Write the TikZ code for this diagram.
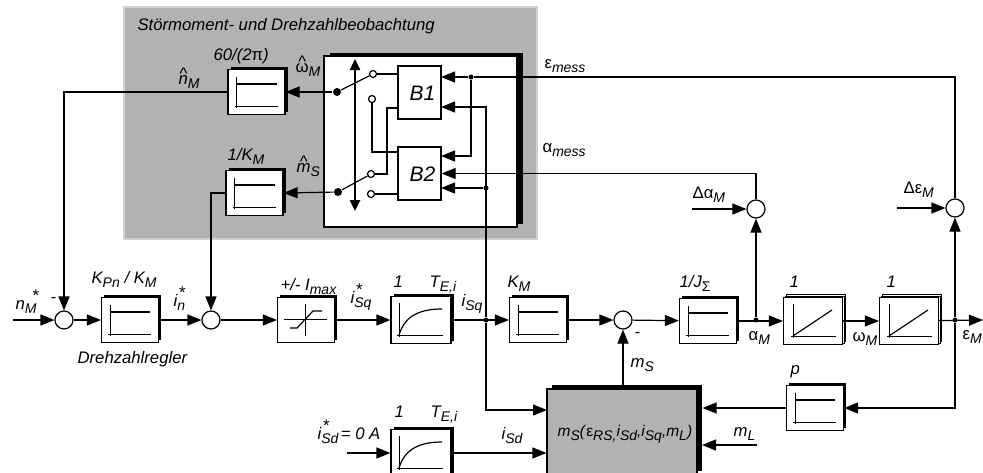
\documentclass[tikz,border=0pt]{standalone}
\usepackage{fontspec}
\setmainfont{Liberation Sans}
\usetikzlibrary{arrows.meta,shadows}

\definecolor{panelgray}{HTML}{B2B2B2}

\newcommand{\lowtxt}[1]{\raisebox{-4pt}{\fontsize{14}{14}\selectfont #1}}
\newcommand{\starlow}[3][0pt]{\rlap{\raisebox{-4pt}{\fontsize{14}{14}\selectfont #2}}\kern#1\raisebox{8pt}{\fontsize{17}{17}\selectfont #3}}
\newcommand{\hatted}[1]{\vbox{\offinterlineskip\halign{\hfil##\hfil\cr\textasciicircum\cr\noalign{\kern-4pt}#1\cr}}}

\tikzset{
  lab/.style={font=\itshape\fontsize{16.7}{16.7}\selectfont, inner sep=0pt, anchor=base west},
  blab/.style={lab, font=\itshape\fontsize{21}{21}\selectfont},
  arr/.style={-{Triangle[length=14pt,width=11pt]}},
  gainblock/.style={draw, fill=white, inner sep=0pt, minimum width=57pt, minimum height=45pt,
    general shadow={fill=black, shadow xshift=2.5pt, shadow yshift=2.5pt}},
  stackblock/.style={draw, fill=white, inner sep=0pt, minimum width=59pt, minimum height=47pt,
    double copy shadow={shadow xshift=1.5pt, shadow yshift=1.5pt, line width=0.5pt}},
  sumnode/.style={circle, draw, fill=white, inner sep=0pt, minimum size=18pt},
  jdot/.style={circle, fill=black, inner sep=0pt, minimum size=5pt},
  swdot/.style={circle, fill=black, inner sep=0pt, minimum size=8pt},
  opendot/.style={circle, draw, fill=white, inner sep=0pt, minimum size=7pt},
  gainglyph/.pic={
    \draw [line width=0.7pt] (-20,-15) -- (-20,16);
    \draw [line width=0.7pt] (-22,14) -- (21,14);
    \draw [line width=1.2pt] (-20,-8) -- (20,-8);
  },
  lagglyph/.pic={
    \draw [line width=0.7pt] (-22,-17) -- (-22,17);
    \draw [line width=0.7pt] (-24,15) -- (22,15);
    \draw [line width=1.2pt] (-22,15) .. controls (-16,-5) and (0,-11) .. (21,-11);
  },
  intglyph/.pic={
    \draw [line width=0.7pt] (-20,-17) -- (-20,17);
    \draw [line width=0.7pt] (-22,15) -- (23,15);
    \draw [line width=1.2pt] (-20,15) -- (19,-11);
  }
}

\begin{document}
\begin{tikzpicture}[x=1pt, y=-1pt, line width=1.2pt]
\useasboundingbox (0,0) rectangle (983,472);
\clip (0,0) rectangle (983,472);

%Observer Panel
\node [draw=panelgray!60, fill=panelgray, minimum width=413pt, minimum height=232pt, inner sep=0pt] (panel) at (330.5,123) {};
\node [draw, fill=white, minimum width=193pt, minimum height=171pt, inner sep=0pt,
  general shadow={fill=black, shadow xshift=5.5pt, shadow yshift=3pt}] (obsbox) at (420.5,141.5) {};
\node [draw, fill=white, minimum width=43pt, minimum height=53pt, inner sep=0pt] (ba) at (419.5,92.5) {};
\node [draw, fill=white, minimum width=43pt, minimum height=53pt, inner sep=0pt] (bb) at (419.5,173.5) {};
\node [gainblock] (obsa) at (256.5,92) {};
\node [gainblock] (obsb) at (254.5,193) {};

%Forward Path
\node [sumnode] (sumn) at (64,320) {};
\node [gainblock] (kpn) at (130,320) {};
\node [sumnode] (sumi) at (211,320) {};
\node [gainblock] (satb) at (306,320) {};
\node [gainblock, minimum width=60pt, minimum height=47pt] (lagq) at (421,320) {};
\node [gainblock] (km) at (538,320) {};
\node [sumnode] (summ) at (623,320) {};
\node [gainblock] (ji) at (708,321) {};
\node [stackblock] (inta) at (813,321) {};
\node [stackblock] (intb) at (909,321) {};

%Lower Path
\node [gainblock, minimum width=60pt, minimum height=47pt] (lagd) at (421,453) {};
\node [draw, fill=panelgray, minimum width=150pt, minimum height=86pt, inner sep=0pt,
  general shadow={fill=black, shadow xshift=5pt, shadow yshift=4pt}] (ms) at (622,432) {};
\node [gainblock] (pb) at (815,408) {};

%Block Contents
\foreach \n in {obsa,obsb,kpn,km,ji,pb}
  \pic at (\n) {gainglyph};
\foreach \n in {lagq,lagd}
  \pic at (\n) {lagglyph};
\foreach \n in {inta,intb}
  \pic at (\n) {intglyph};
\draw [line width=0.7pt] (284,319) -- (327,319);
\draw [line width=0.7pt] (305,304) -- (305,336);
\draw [line width=1.2pt] (290,328) -- (297,328) -- (313,311) -- (322,311);

%Deviation Sums
\node [sumnode] (suma) at (756,209) {};
\node [sumnode] (sume) at (955,208) {};

%Junctions & Free Ends
\node [jdot] (jq) at (486,320) {};
\node [jdot] (jqb) at (486,188) {};
\node [jdot] (jm) at (471,77) {};
\node [jdot] (ja) at (756,320) {};
\node [jdot] (je) at (955,320) {};
\coordinate (nin) at (13,320);
\coordinate (eout) at (983,320);
\coordinate (dain) at (692,209);
\coordinate (dein) at (897,208);
\coordinate (sdin) at (347,453);
\coordinate (mlin) at (757,445);
\coordinate (mlto) at (702,445);
\coordinate (msq) at (547,410);
\coordinate (bain) at (441,107);
\coordinate (bbe) at (441,156);
\coordinate (bbq) at (441,188);
\coordinate (bae) at (441,77);
\coordinate (bal) at (398,108);
\coordinate (bbl) at (398,152);
\coordinate (kink) at (387,174);

%Switch
\node [swdot] (swa) at (337,92) {};
\node [opendot] (swaa) at (373,74) {};
\node [opendot] (swab) at (372,99) {};
\node [swdot] (swb) at (338,192) {};
\node [opendot] (swba) at (371,174) {};
\node [opendot] (swbb) at (371,194) {};
\coordinate (swtop) at (355,59);
\coordinate (swbot) at (355,211);
\draw [line width=2.4pt, {Triangle[length=11pt,width=10pt]}-{Triangle[length=11pt,width=10pt]}] (swtop) -- (swbot);
\draw (swa) -- (swaa);
\draw (swb) -- (swba);
\draw (swaa) -- (swaa -| ba.west);
\draw (swab) |- (bbl);
\draw (bal) -| (kink) -- (swba);
\draw (swbb) -- (swbb -| bb.west);
\draw [arr] (swa) -- (obsa.east);
\draw [arr] (swb) -- (obsb.east);

%Signals Into B1 & B2
\draw [arr] (sume) |- (jm) -- (bae);
\draw [arr] (jm) |- (bbe);
\draw [arr] (suma) |- (bb.east);
\draw [arr] (jq) |- (bain);
\draw [arr] (jqb) -- (bbq);

%Signal Flow
\draw [arr] (nin) -- (sumn);
\draw [arr] (obsa.west) -| (sumn);
\draw [arr] (sumn) -- (kpn);
\draw [arr] (kpn) -- (sumi);
\draw [arr] (obsb.west) -| (sumi);
\draw [arr] (sumi) -- (satb);
\draw [arr] (satb) -- (lagq);
\draw [arr] (lagq) -- (km);
\draw [arr] (km) -- (summ);
\draw [arr] (summ) -- (ji);
\draw [arr] (ji) -- (inta);
\draw [arr] (inta) -- (intb);
\draw [arr] (intb) -- (eout);
\draw [arr] (ja) -- (suma);
\draw [arr] (je) -- (sume);
\draw [arr] (dain) -- (suma);
\draw [arr] (dein) -- (sume);
\draw [arr] (ms.north -| summ) -- (summ);
\draw [arr] (jq) |- (msq);
\draw [arr] (sdin) -- (lagd.west);
\draw [arr] (lagd.east) -- (lagd.east -| ms.west);
\draw [arr] (je) |- (pb.east);
\draw [arr, shorten >=5pt] (pb.west) -- (pb.west -| ms.east);
\draw [arr] (mlin) -- (mlto);

%Labels
\node [lab] (tpanel) at (137,30) {Störmoment- und Drehzahlbeobachtung};
\node [lab] (tfsixty) at (213,60) {60/(2\textup{π})};
\node [lab] (tnhat) at (178,84) {\hatted{n}\lowtxt{M}};
\node [lab] (twhat) at (295,72) {\hatted{\textup{ω}}\lowtxt{M}};
\node [lab] (tfkm) at (227,160) {1/K\lowtxt{M}};
\node [lab] (tmhat) at (296,172) {\hatted{m}\lowtxt{S}};
\node [blab] (tba) at (409,100) {B1};
\node [blab] (tbb) at (409,181) {B2};
\node [lab] (temess) at (544,68) {\textup{ε}\lowtxt{mess}};
\node [lab] (tamess) at (542,152) {\textup{α}\lowtxt{mess}};
\node [lab] (tda) at (692,198) {\textup{Δα}\lowtxt{M}};
\node [lab] (tde) at (903,193) {\textup{Δε}\lowtxt{M}};
\node [lab] (tnm) at (15,309) {n\starlow[7pt]{M}{*}};
\node [lab] (tminn) at (50,302) {-};
\node [lab] (tkpn) at (91,283) {K\lowtxt{Pn} / K\lowtxt{M}};
\node [lab] (tin) at (173,306) {i\starlow[1pt]{n}{*}};
\node [lab] (timax) at (280,290) {+/- I\lowtxt{max}};
\node [lab] (tisqs) at (350,303) {i\starlow[1pt]{Sq}{*}};
\node [lab] (tqone) at (393,287) {1};
\node [lab] (tqt) at (429,287) {T\lowtxt{E,i}};
\node [lab] (tisq) at (461,306) {i\lowtxt{Sq}};
\node [lab] (tdrz) at (77,363) {Drehzahlregler};
\node [lab] (tisds) at (317,439) {i\starlow[1pt]{Sd}{*}\kern12pt = 0 A};
\node [lab] (tdone) at (394,417) {1};
\node [lab] (tdt) at (430,417) {T\lowtxt{E,i}};
\node [lab] (tkm) at (507,287) {K\lowtxt{M}};
\node [lab] (tji) at (679,287) {1/J\lowtxt{\textup{Σ}}};
\node [lab] (tminm) at (634,337) {-};
\node [lab] (tam) at (748,340) {\textup{α}\lowtxt{M}};
\node [lab] (taone) at (789,287) {1};
\node [lab] (tbone) at (886,287) {1};
\node [lab] (twm) at (852,341) {\textup{ω}\lowtxt{M}};
\node [lab] (tem) at (962,339) {\textup{ε}\lowtxt{M}};
\node [lab] (tms) at (630,367) {m\lowtxt{S}};
\node [lab] (tp) at (790,374) {p};
\node [lab] (tml) at (733,436) {m\lowtxt{L}};
\node [lab] (tisd) at (501,439) {i\lowtxt{Sd}};
\node [lab, font=\itshape\fontsize{15.5}{15.5}\selectfont] (tmsf) at (557,436) {m\lowtxt{S}(\textup{ε}\lowtxt{RS,}i\lowtxt{Sd},i\lowtxt{Sq},m\lowtxt{L})};

%Extras
\end{tikzpicture}
\end{document}
